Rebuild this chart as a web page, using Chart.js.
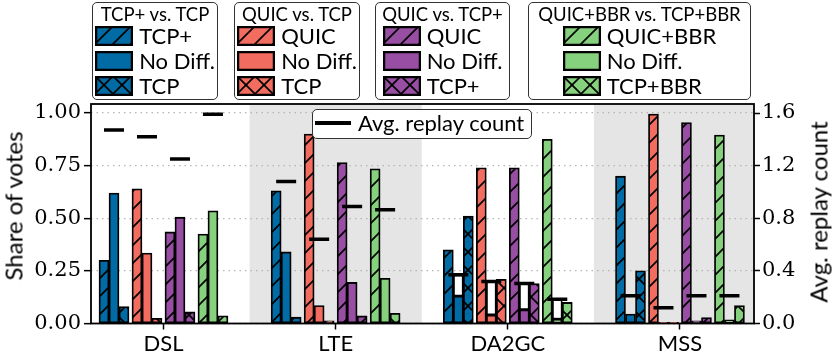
<!DOCTYPE html>
<html>
<head>
<meta charset="utf-8">
<script src="https://cdn.jsdelivr.net/npm/chart.js@4.4.0/dist/chart.umd.min.js"></script>
<style>
  body { margin: 0; background: #fff; font-family: Lato, sans-serif; }
  #wrap { position: relative; width: 832px; height: 361px; overflow: hidden; }
  #chart { position: absolute; left: 0; top: 0; }
  .lg { position: absolute; top: 2px; height: 98px; box-sizing: border-box; border: 1.3px solid #333; border-radius: 5px; background: #fff; }
  .lg .title { position: absolute; left: 0; right: 0; top: 1px; text-align: center; font-size: 18.5px; line-height: 20px; white-space: nowrap; }
  .lg .rows { position: absolute; top: 20px; left: 0; right: 0; text-align: center; }
  .lg .inner { display: inline-block; text-align: left; }
  .lg .row { height: 25px; display: flex; align-items: center; white-space: nowrap; font-size: 22px; }
  .lg canvas { margin-right: 6px; }
  .ylab { position: absolute; font-size: 24px; white-space: nowrap; transform: translate(-50%, -50%) rotate(-90deg); }
  #replayLg { position: absolute; left: 312px; top: 109px; width: 220px; height: 30px; box-sizing: border-box; border: 1.3px solid #333; border-radius: 5px; background: #fff; font-size: 22px; line-height: 28px; white-space: nowrap; }
  #replayLg span.line { position: absolute; left: 2px; top: 11px; width: 36px; height: 4px; background: #000; }
  #replayLg span.txt { position: absolute; left: 45px; top: -1px; }
</style>
</head>
<body>
<div id="wrap">
  <canvas id="chart" width="832" height="361"></canvas>
  <div class="ylab" style="left:13px; top:206px;">Share of votes</div>
  <div class="ylab" style="left:818px; top:212px;">Avg. replay count</div>
  <div id="replayLg"><span class="line"></span><span class="txt">Avg. replay count</span></div>
</div>
<script>
const groups = ['DSL', 'LTE', 'DA2GC', 'MSS'];
const comparisons = ['TCP+ vs. TCP', 'QUIC vs. TCP', 'QUIC vs. TCP+', 'QUIC+BBR vs. TCP+BBR'];
const outcomeLabels = [
  ['TCP+', 'No Diff.', 'TCP'],
  ['QUIC', 'No Diff.', 'TCP'],
  ['QUIC', 'No Diff.', 'TCP+'],
  ['QUIC+BBR', 'No Diff.', 'TCP+BBR']
];
const colors = ['#006ba4', '#f36c60', '#984ea3', '#86d17d'];

// share of votes, rows: first protocol / no diff / second protocol, columns: groups
const votesTcpPlusVsTcp = [
  [0.30, 0.63, 0.35, 0.70],
  [0.62, 0.34, 0.13, 0.045],
  [0.08, 0.03, 0.51, 0.25]
];
const votesQuicVsTcp = [
  [0.64, 0.90, 0.74, 0.995],
  [0.335, 0.085, 0.04, 0.005],
  [0.025, 0.013, 0.21, 0.005]
];
const votesQuicVsTcpPlus = [
  [0.435, 0.765, 0.74, 0.955],
  [0.505, 0.195, 0.065, 0.013],
  [0.055, 0.036, 0.19, 0.028]
];
const votesQuicBbrVsTcpBbr = [
  [0.425, 0.735, 0.875, 0.895],
  [0.535, 0.215, 0.02, 0.017],
  [0.037, 0.048, 0.10, 0.085]
];
// avg replay count per comparison, columns: groups
const replayCount = [
  [1.47, 1.08, 0.37, 0.21],
  [1.42, 0.64, 0.32, 0.12],
  [1.25, 0.89, 0.305, 0.21],
  [1.59, 0.865, 0.185, 0.21]
];
const yTicks = [0, 0.25, 0.5, 0.75, 1.0];
const y2Ticks = [0, 0.4, 0.8, 1.2, 1.6];

const allVotes = [votesTcpPlusVsTcp, votesQuicVsTcp, votesQuicVsTcpPlus, votesQuicBbrVsTcpBbr];
const hatchKinds = ['/', '', 'x'];
const BAR_STEP = 0.0581, CMP_STEP = 0.1916;
const Y_MAX = 1.0428, Y2_MAX = Y_MAX * 1.6;
const blankGroup = 2; // DA2GC shows white boxes up to the replay marker

function hatch(color, kind) {
  const s = 18;
  const c = document.createElement('canvas');
  c.width = s; c.height = s;
  const g = c.getContext('2d');
  g.fillStyle = color;
  g.fillRect(0, 0, s, s);
  g.strokeStyle = '#000';
  g.lineWidth = 1.7;
  const line = (x0, y0, x1, y1) => { g.beginPath(); g.moveTo(x0, y0); g.lineTo(x1, y1); g.stroke(); };
  if (kind === '/' || kind === 'x') {
    line(-2, s + 2, s + 2, -2); line(-2, 2, 2, -2); line(s - 2, s + 2, s + 2, s - 2);
  }
  if (kind === 'x') {
    line(-2, -2, s + 2, s + 2); line(-2, s - 2, 2, s + 2); line(s - 2, -2, s + 2, 2);
  }
  return g.createPattern(c, 'repeat');
}

const datasets = [];
allVotes.forEach((votes, c) => {
  votes.forEach((vals, k) => {
    datasets.push({
      type: 'bar',
      label: comparisons[c] + ': ' + outcomeLabels[c][k],
      data: vals.map((v, g) => ({ x: g + (c - 1.5) * CMP_STEP + (k - 1) * BAR_STEP, y: v })),
      backgroundColor: hatch(colors[c], hatchKinds[k]),
      borderColor: '#000',
      borderWidth: 1.8,
      borderSkipped: false,
      barThickness: 10,
      grouped: false,
      order: 3
    });
  });
});

// white boxes in DA2GC between the no-diff bar and the replay marker
datasets.push({
  type: 'bar',
  label: 'blank',
  data: replayCount.map((r, c) => ({
    x: blankGroup + (c - 1.5) * CMP_STEP,
    y: [allVotes[c][1][blankGroup], r[blankGroup] / 1.6]
  })),
  backgroundColor: '#fff',
  borderColor: '#000',
  borderWidth: 1.8,
  borderSkipped: false,
  barThickness: 10,
  grouped: false,
  order: 2
});

replayCount.forEach((vals, c) => {
  datasets.push({
    type: 'line',
    label: 'Avg. replay count',
    yAxisID: 'y2',
    data: vals.map((v, g) => ({ x: g + (c - 1.5) * CMP_STEP, y: v })),
    showLine: false,
    pointStyle: 'line',
    pointRadius: 10,
    pointBorderWidth: 3.5,
    borderColor: '#000',
    backgroundColor: '#000',
    order: 1
  });
});

const bands = {
  id: 'bands',
  beforeDraw(chart) {
    const { ctx, chartArea: a, scales: { x } } = chart;
    ctx.save();
    ctx.fillStyle = '#e5e5e5';
    [1, 3].forEach(i => {
      const l = Math.max(a.left, x.getPixelForValue(i - 0.5));
      const r = Math.min(a.right, x.getPixelForValue(i + 0.5));
      ctx.fillRect(l, a.top, r - l, a.bottom - a.top);
    });
    ctx.restore();
  },
  afterDatasetsDraw(chart) {
    const { ctx, chartArea: a } = chart;
    ctx.save();
    ctx.strokeStyle = '#000';
    ctx.lineWidth = 1.8;
    ctx.strokeRect(a.left, a.top, a.right - a.left, a.bottom - a.top);
    ctx.restore();
  }
};

new Chart(document.getElementById('chart'), {
  type: 'bar',
  data: { datasets },
  plugins: [bands],
  options: {
    responsive: false,
    animation: false,
    layout: { padding: { top: 104, left: 0, right: 0, bottom: 0 } },
    plugins: { legend: { display: false }, tooltip: { enabled: false } },
    scales: {
      x: {
        type: 'linear', min: -0.421, max: 3.43, offset: false, bounds: 'data',
        afterBuildTicks: s => { s.ticks = groups.map((_, i) => ({ value: i })); },
        afterFit: s => { s.height = 37.5; },
        ticks: { callback: v => groups[v], color: '#000', font: { family: 'Lato', size: 22 }, padding: 1, maxRotation: 0, autoSkip: false },
        grid: { drawOnChartArea: false, offset: false, tickLength: 6, tickWidth: 1.5, tickColor: '#000' },
        border: { display: false }
      },
      y: {
        min: 0, max: Y_MAX, bounds: 'data',
        afterBuildTicks: s => { s.ticks = yTicks.map(v => ({ value: v })); },
        afterFit: s => { s.width = 91; },
        ticks: { callback: v => v.toFixed(2), color: '#000', font: { family: 'DejaVu Serif', size: 21 }, padding: 3 },
        grid: { color: '#b5b5b5', lineWidth: 1.3, tickLength: 7, tickWidth: 1.5, tickColor: '#000', tickBorderDash: [] },
        border: { display: false, dash: [1.5, 4] }
      },
      y2: {
        position: 'right', min: 0, max: Y2_MAX, bounds: 'data',
        afterBuildTicks: s => { s.ticks = y2Ticks.map(v => ({ value: v })); },
        afterFit: s => { s.width = 78; },
        ticks: { callback: v => v.toFixed(1), color: '#000', font: { family: 'DejaVu Serif', size: 21 }, padding: 2 },
        grid: { drawOnChartArea: false, tickLength: 6, tickWidth: 1.5, tickColor: '#000' },
        border: { display: false }
      }
    }
  }
});

// grouped legends at the top
const legendBoxes = [[92, 126], [234, 126], [375, 135], [528, 223]];
const wrap = document.getElementById('wrap');
comparisons.forEach((name, c) => {
  const box = document.createElement('div');
  box.className = 'lg';
  box.style.left = legendBoxes[c][0] + 'px';
  box.style.width = legendBoxes[c][1] + 'px';
  const t = document.createElement('div');
  t.className = 'title';
  t.textContent = name;
  box.appendChild(t);
  const rows = document.createElement('div');
  rows.className = 'rows';
  const inner = document.createElement('div');
  inner.className = 'inner';
  outcomeLabels[c].forEach((lab, k) => {
    const row = document.createElement('div');
    row.className = 'row';
    const p = document.createElement('canvas');
    p.width = 38; p.height = 20;
    const g = p.getContext('2d');
    g.fillStyle = hatch(colors[c], hatchKinds[k]);
    g.fillRect(0, 0, 38, 20);
    g.strokeStyle = '#000';
    g.lineWidth = 2.5;
    g.strokeRect(1, 1, 36, 18);
    row.appendChild(p);
    const s = document.createElement('span');
    s.textContent = lab;
    row.appendChild(s);
    inner.appendChild(row);
  });
  rows.appendChild(inner);
  box.appendChild(rows);
  wrap.appendChild(box);
});
</script>
</body>
</html>
